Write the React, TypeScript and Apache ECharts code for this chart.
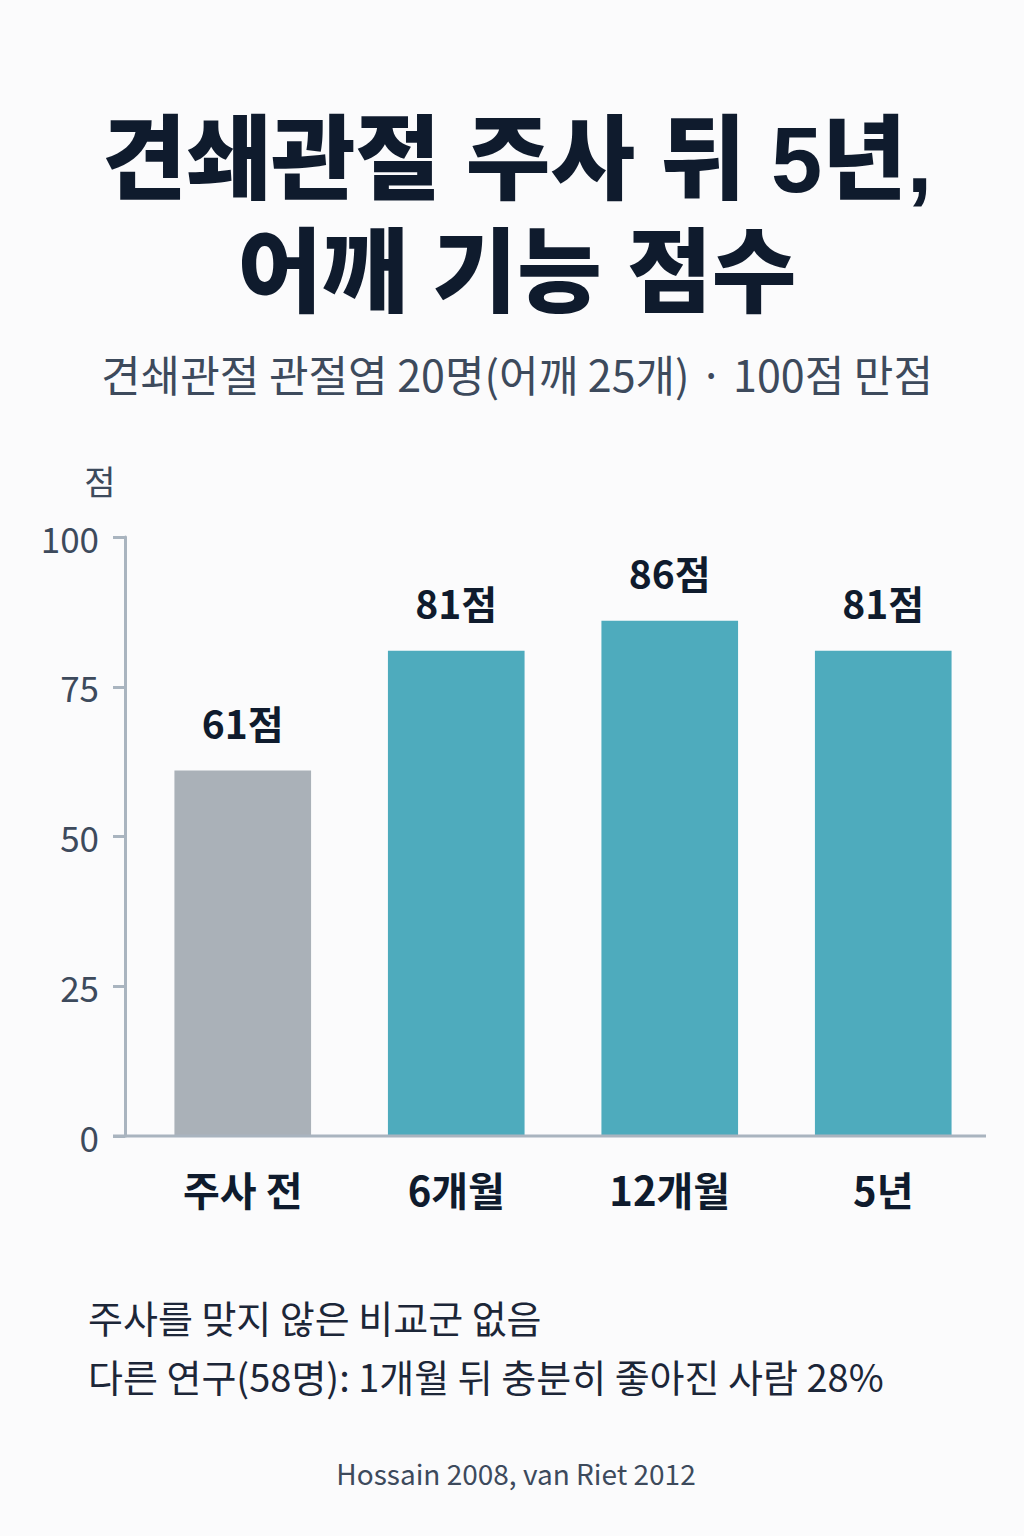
import * as echarts from 'echarts';
import { useEffect, useRef } from 'react';

const categories = ['주사 전', '6개월', '12개월', '5년'];
const scores = [61, 81, 86, 81];
const barColors = ['#aab1b8', '#4eabbd', '#4eabbd', '#4eabbd'];
const valueSuffix = '점';

const titleLines = ['견쇄관절 주사 뒤 5년,', '어깨 기능 점수'];
const subtitleText = '견쇄관절 관절염 20명(어깨 25개) · 100점 만점';
const unitText = '점';
const notes = ['주사를 맞지 않은 비교군 없음', '다른 연구(58명): 1개월 뒤 충분히 좋아진 사람 28%'];
const sourceText = 'Hossain 2008, van Riet 2012';

const FONT = '"Noto Sans CJK KR", "Noto Sans", sans-serif';
// title: tighter line metrics so the two lines sit close like the reference
const TITLE_FONT = '"Liberation Sans", "Noto Sans CJK KR", sans-serif';
const AXIS_COLOR = '#a9b4bf';
const MUTED = '#3d4a5c';
const DARK = '#0f1b2d';

function App() {
  const chartRef = useRef(null);

  useEffect(() => {
    document.body.style.margin = '0';
    const myChart = echarts.init(chartRef.current, null, { renderer: 'svg' });

    const option = {
      animation: false,
      backgroundColor: '#fbfbfc',
      textStyle: { fontFamily: FONT },
      title: [
        ...titleLines.map((t, i) => ({
          text: t,
          left: 512,
          top: 105 + i * 113,
          textAlign: 'center',
          textStyle: {
            fontFamily: TITLE_FONT,
            fontSize: 92,
            fontWeight: 900,
            lineHeight: 100,
            color: DARK,
          },
        })),
        {
          text: subtitleText,
          left: 512,
          top: 343,
          textAlign: 'center',
          textStyle: {
            fontFamily: FONT,
            fontSize: 43,
            fontWeight: 'normal',
            lineHeight: 50,
            color: MUTED,
          },
        },
      ],
      grid: {
        left: 136,
        right: 34,
        top: 537,
        bottom: 400,
      },
      xAxis: {
        type: 'category',
        data: categories,
        axisLine: { show: false },
        axisTick: { show: false },
        axisLabel: {
          margin: 33,
          fontFamily: FONT,
          fontSize: 40,
          fontWeight: 'bold',
          color: DARK,
        },
      },
      yAxis: {
        type: 'value',
        min: 0,
        max: 100,
        interval: 25,
        offset: 11,
        axisLine: { show: true, lineStyle: { color: AXIS_COLOR, width: 3 } },
        axisTick: { show: true, length: 12, lineStyle: { color: AXIS_COLOR, width: 3 } },
        splitLine: { show: false },
        axisLabel: {
          margin: 26,
          fontFamily: FONT,
          fontSize: 35,
          color: MUTED,
        },
      },
      series: [
        {
          type: 'bar',
          barWidth: '64%',
          data: scores.map((v, i) => ({ value: v, itemStyle: { color: barColors[i] } })),
          label: {
            show: true,
            position: 'top',
            distance: 29,
            formatter: (p: any) => `${p.value}${valueSuffix}`,
            fontFamily: FONT,
            fontSize: 39,
            fontWeight: 'bold',
            color: DARK,
          },
        },
      ],
      graphic: [
        {
          type: 'line',
          shape: { x1: 113, y1: 1136, x2: 986, y2: 1136 },
          style: { stroke: AXIS_COLOR, lineWidth: 3 },
          z: 10,
        },
        {
          type: 'text',
          x: 100,
          y: 480,
          style: {
            text: unitText,
            font: `34px ${FONT}`,
            fill: MUTED,
            textAlign: 'center',
            textVerticalAlign: 'middle',
          },
        },
        ...notes.map((t, i) => ({
          type: 'text',
          x: 88,
          y: 1316 + i * 59,
          style: {
            text: t,
            font: `38px ${FONT}`,
            fill: '#1c2638',
            textAlign: 'left',
            textVerticalAlign: 'middle',
          },
        })),
        {
          type: 'text',
          x: 516,
          y: 1473,
          style: {
            text: sourceText,
            font: `28px ${FONT}`,
            fill: MUTED,
            textAlign: 'center',
            textVerticalAlign: 'middle',
          },
        },
      ],
    };

    myChart.setOption(option);

    return () => {
      myChart.dispose();
    };
  }, []);

  return (
    <div
      ref={chartRef}
      style={{ position: 'absolute', left: 0, top: 0, width: '1024px', height: '1536px' }}
    ></div>
  );
}

export default App;
